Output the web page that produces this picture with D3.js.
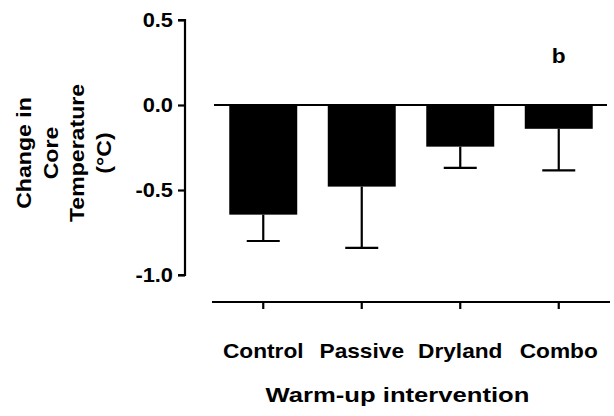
<!DOCTYPE html>
<html>
<head>
<meta charset="utf-8">
<script src="https://cdn.jsdelivr.net/npm/d3@7"></script>
<style>
  body { margin: 0; background: #fff; }
  text { font-family: "Liberation Sans", Arial, sans-serif; font-weight: bold; fill: #000; }
</style>
</head>
<body>
<svg id="chart"></svg>
<script>
const categories = ["Control", "Passive", "Dryland", "Combo"];
const means = [-0.645, -0.48, -0.245, -0.14];
const errLow = [-0.80, -0.84, -0.37, -0.385];
const yTicks = [0.5, 0.0, -0.5, -1.0];
const annotation = "b";
const yTitle = ["Change in", "Core", "Temperature", "(°C)"];
const xTitle = "Warm-up intervention";

const width = 614, height = 416;
const svg = d3.select("#chart").attr("width", width).attr("height", height);

// the original glyphs are a bit wider than Liberation Sans, so stretch them
function stretch(sel, k) {
  sel.each(function() {
    const w = this.getComputedTextLength();
    d3.select(this).attr("textLength", w * k).attr("lengthAdjust", "spacingAndGlyphs");
  });
}

const y = d3.scaleLinear().domain([-1, 0.5]).range([275, 20]);
const x = d3.scaleBand().domain(categories).range([214, 608])
  .paddingInner(0.31).paddingOuter(0.155);

// y axis
const yAxis = svg.append("g").attr("transform", "translate(185,0)")
  .call(d3.axisLeft(y).tickValues(yTicks).tickSize(7).tickPadding(5));
yAxis.select(".domain").attr("stroke-width", 2.2).attr("d", `M-7,${y(0.5)}H0V${y(-1)}H-7`);
yAxis.selectAll(".tick line").attr("stroke-width", 2.2);
yAxis.selectAll(".tick text").style("font-size", "21px")
  .text(d => d3.format(".1f")(d).replace("−", "-"))
  .call(stretch, 1.04);

// bars
svg.selectAll("rect.bar").data(categories).join("rect")
  .attr("class", "bar")
  .attr("x", d => x(d))
  .attr("width", x.bandwidth())
  .attr("y", y(0))
  .attr("height", (d, i) => y(means[i]) - y(0))
  .attr("fill", "#000");

// error bars
const capW = 33;
categories.forEach((c, i) => {
  const cx = x(c) + x.bandwidth() / 2;
  svg.append("line").attr("x1", cx).attr("x2", cx)
    .attr("y1", y(means[i])).attr("y2", y(errLow[i]))
    .attr("stroke", "#000").attr("stroke-width", 2.2);
  svg.append("line").attr("x1", cx - capW / 2).attr("x2", cx + capW / 2)
    .attr("y1", y(errLow[i])).attr("y2", y(errLow[i]))
    .attr("stroke", "#000").attr("stroke-width", 2.2);
});

// zero line
svg.append("line").attr("x1", 214).attr("x2", 607)
  .attr("y1", y(0)).attr("y2", y(0))
  .attr("stroke", "#000").attr("stroke-width", 2.2);

// x axis (offset below the plot)
const xAxis = svg.append("g").attr("transform", "translate(0,302)")
  .call(d3.axisBottom(x).tickSize(7).tickPadding(0));
xAxis.select(".domain").attr("stroke-width", 2.2).attr("d", "M212,0H610");
xAxis.selectAll(".tick line").attr("stroke-width", 2.2);
xAxis.selectAll(".tick text").style("font-size", "21px")
  .attr("dy", null).attr("y", 56)
  .call(stretch, 1.08);

// annotation
svg.append("text").attr("x", x("Combo") + x.bandwidth() / 2).attr("y", 63)
  .attr("text-anchor", "middle").style("font-size", "21px").text(annotation)
  .call(stretch, 1.08);

// x title
svg.append("text").attr("x", 397.5).attr("y", 402)
  .attr("text-anchor", "middle").style("font-size", "21px")
  .text(xTitle)
  .call(stretch, 1.22);

// y title
svg.selectAll("text.ytitle").data(yTitle).join("text")
  .attr("class", "ytitle")
  .attr("transform", (d, i) => `translate(${31 + i * 26.5},153) rotate(-90)`)
  .attr("text-anchor", "middle").style("font-size", "21px")
  .text(d => d)
  .call(stretch, 1.1);
</script>
</body>
</html>
